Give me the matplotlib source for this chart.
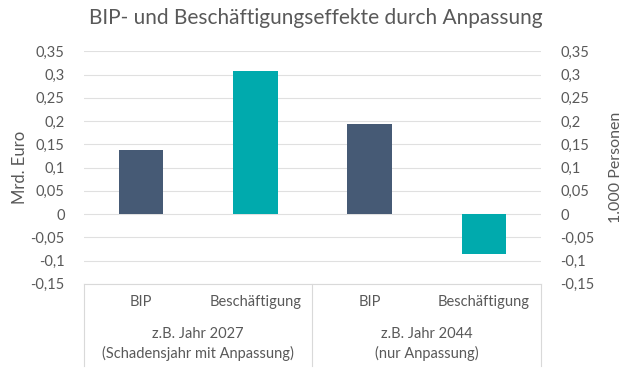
import matplotlib
matplotlib.use("Agg")
import matplotlib.pyplot as plt
from matplotlib.transforms import blended_transform_factory

plt.rcParams['font.family'] = ['Lato', 'DejaVu Sans']

categories = ["BIP", "Beschäftigung", "BIP", "Beschäftigung"]
groups = ["z.B. Jahr 2027\n(Schadensjahr mit Anpassung)", "z.B. Jahr 2044\n(nur Anpassung)"]
values = [0.138, 0.308, 0.193, -0.085]
colors = ["#465A75", "#00AAAD", "#465A75", "#00AAAD"]
yticks = [-0.15, -0.1, -0.05, 0, 0.05, 0.1, 0.15, 0.2, 0.25, 0.3, 0.35]
yticklabels = ["-0,15", "-0,1", "-0,05", "0", "0,05", "0,1", "0,15", "0,2", "0,25", "0,3", "0,35"]

txt = "#595959"
fig = plt.figure(figsize=(6.32, 3.85), dpi=100)
ax = fig.add_axes([0.1329, 0.2629, 0.7231, 0.6039])
x = list(range(len(categories)))
ax.bar(x, values, width=0.39, color=colors, zorder=3)
ax.set_xlim(-0.5, 3.5)
ax.set_ylim(-0.15, 0.35)
ax.set_yticks(yticks)
ax.set_yticklabels(yticklabels)
ax.grid(axis='y', color="#E0E0E0", lw=0.8, zorder=0)
for s in ['top', 'left', 'right']:
    ax.spines[s].set_visible(False)
ax.spines['bottom'].set_color("#D9D9D9")
ax.tick_params(axis='y', length=0, pad=14, labelsize=10.5, labelcolor=txt)
ax.tick_params(axis='x', length=0, pad=8, labelsize=10.5, labelcolor=txt)
ax.set_xticks(x)
ax.set_xticklabels(categories)
ax.set_ylabel("Mrd. Euro", fontsize=12, color=txt, labelpad=2)

ax2 = ax.twinx()
ax2.set_ylim(-0.15, 0.35)
ax2.set_yticks(yticks)
ax2.set_yticklabels(yticklabels)
for s in ax2.spines.values():
    s.set_visible(False)
ax2.tick_params(axis='y', length=0, pad=14, labelsize=10.5, labelcolor=txt)
ax2.set_ylabel("1.000 Personen", fontsize=11.5, color=txt, labelpad=10)

tr = blended_transform_factory(ax.transData, ax.transAxes)
for xs in [-0.5, 1.5, 3.5]:
    ax.plot([xs, xs], [0, -0.354], transform=tr, color="#D9D9D9", lw=0.8, clip_on=False)
for i, g in enumerate(groups):
    ax.text(2 * i + 0.5, -0.26, g, transform=tr, ha='center', va='center',
            fontsize=10.5, color=txt, linespacing=1.4)

fig.text(0.5, 0.953, "BIP- und Beschäftigungseffekte durch Anpassung", ha='center', va='center',
         fontsize=15, color=txt)

fig.savefig("out.png", dpi=100)
